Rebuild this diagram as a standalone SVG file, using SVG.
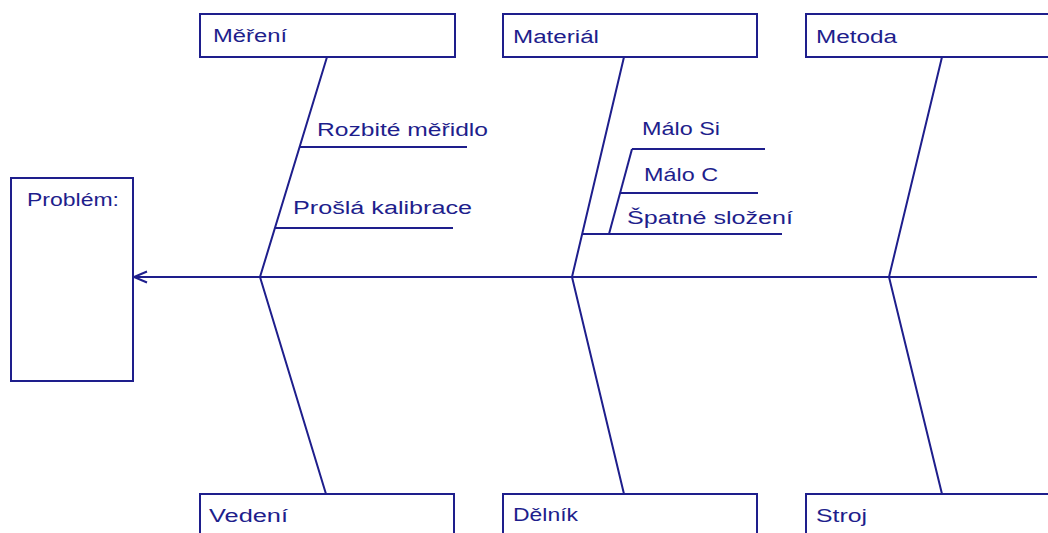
<svg xmlns="http://www.w3.org/2000/svg" width="1048" height="533" viewBox="0 0 1048 533">
<style>
.box{fill:#fff;stroke:#1e1e8c;stroke-width:2}
.ln{fill:none;stroke:#1e1e8c;stroke-width:2;stroke-linecap:butt}
.t{font-family:"Liberation Sans",Arial,sans-serif;font-size:18px;fill:#1e1e8c}
</style>
<rect width="1048" height="533" fill="#fff"/>
<g id="connectors">
<line class="ln" x1="134" y1="277" x2="1037" y2="277"/>
<polyline class="ln" points="147,271.5 134,277 147,282.5"/>
<polyline class="ln" points="327,57 260,277 326,494"/>
<polyline class="ln" points="624,57 572,277 624,494"/>
<polyline class="ln" points="942,57 889,277 942,494"/>
<line class="ln" x1="299" y1="147" x2="467" y2="147"/>
<line class="ln" x1="275" y1="228" x2="453" y2="228"/>
<line class="ln" x1="582" y1="234" x2="782" y2="234"/>
<line class="ln" x1="632" y1="149" x2="609" y2="234"/>
<line class="ln" x1="632" y1="149" x2="765" y2="149"/>
<line class="ln" x1="620" y1="193" x2="758" y2="193"/>
</g>
<g id="problem">
<rect class="box" x="11" y="178" width="122" height="203"/>
<text class="t" x="27" y="206" textLength="92" lengthAdjust="spacingAndGlyphs">Problém:</text>
</g>
<g id="mereni">
<rect class="box" x="200" y="14" width="255" height="43"/>
<text class="t" x="213" y="42" textLength="74" lengthAdjust="spacingAndGlyphs">Měření</text>
</g>
<g id="material">
<rect class="box" x="503" y="14" width="254" height="43"/>
<text class="t" x="513" y="43" textLength="86" lengthAdjust="spacingAndGlyphs">Materiál</text>
</g>
<g id="metoda">
<rect class="box" x="806" y="14" width="260" height="43"/>
<text class="t" x="816" y="43" textLength="81" lengthAdjust="spacingAndGlyphs">Metoda</text>
</g>
<g id="vedeni">
<rect class="box" x="200" y="494" width="254" height="60"/>
<text class="t" x="209" y="522" textLength="79" lengthAdjust="spacingAndGlyphs">Vedení</text>
</g>
<g id="delnik">
<rect class="box" x="503" y="494" width="254" height="60"/>
<text class="t" x="513" y="521" textLength="65" lengthAdjust="spacingAndGlyphs">Dělník</text>
</g>
<g id="stroj">
<rect class="box" x="806" y="494" width="260" height="60"/>
<text class="t" x="816" y="522" textLength="51" lengthAdjust="spacingAndGlyphs">Stroj</text>
</g>
<g id="rozbite">
<text class="t" x="317" y="136" textLength="171" lengthAdjust="spacingAndGlyphs">Rozbité měřidlo</text>
</g>
<g id="prosla">
<text class="t" x="293" y="214" textLength="179" lengthAdjust="spacingAndGlyphs">Prošlá kalibrace</text>
</g>
<g id="malo-si">
<text class="t" x="642" y="135" textLength="78" lengthAdjust="spacingAndGlyphs">Málo Si</text>
</g>
<g id="malo-c">
<text class="t" x="644" y="181" textLength="74" lengthAdjust="spacingAndGlyphs">Málo C</text>
</g>
<g id="spatne">
<text class="t" x="627" y="224" textLength="166" lengthAdjust="spacingAndGlyphs">Špatné složení</text>
</g>
</svg>
